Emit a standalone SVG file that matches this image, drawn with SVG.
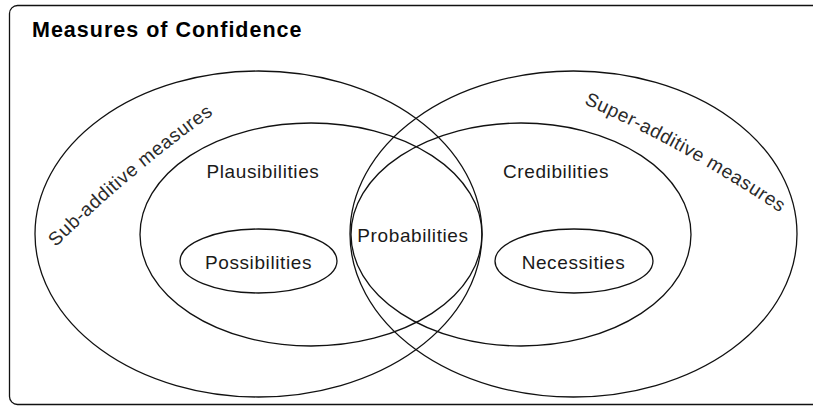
<svg xmlns="http://www.w3.org/2000/svg" width="813" height="408" viewBox="0 0 813 408">
  <style>
    .shape { fill: none; stroke: #111; stroke-width: 1.3; }
    .lbl { font-family: "Liberation Sans", Arial, Helvetica, sans-serif; font-size: 19px; letter-spacing: 0.6px; fill: #1a1a1a; text-anchor: middle; }
    .arc { font-family: "Liberation Sans", Arial, Helvetica, sans-serif; font-size: 19px; letter-spacing: 0.6px; fill: #2a2a2a; }
    .title { font-family: "Liberation Sans", Arial, Helvetica, sans-serif; font-size: 21.5px; font-weight: bold; letter-spacing: 1px; fill: #000; }
  </style>
  <defs>
    <path id="subPath" d="M 55,248 A 1300,1300 0 0 1 215,113"/>
    <path id="superPath" d="M 582,103 A 1300,1300 0 0 1 782,214"/>
  </defs>
  <rect width="813" height="408" fill="#fff"/>
  <g id="frame">
    <rect x="9.5" y="5.5" width="840" height="399" rx="8" ry="8" class="shape"/>
    <text x="32" y="36.5" class="title">Measures of Confidence</text>
  </g>
  <g id="sub-additive">
    <ellipse cx="258.5" cy="234" rx="223.5" ry="163" class="shape"/>
    <text class="arc"><textPath href="#subPath" startOffset="50%" text-anchor="middle">Sub-additive measures</textPath></text>
  </g>
  <g id="super-additive">
    <ellipse cx="573.5" cy="234" rx="223.5" ry="163" class="shape"/>
    <text class="arc"><textPath href="#superPath" startOffset="50%" text-anchor="middle">Super-additive measures</textPath></text>
  </g>
  <g id="plausibilities">
    <ellipse cx="311" cy="234.5" rx="171" ry="111.5" class="shape"/>
    <text x="263" y="178" class="lbl">Plausibilities</text>
  </g>
  <g id="credibilities">
    <ellipse cx="521" cy="234.5" rx="170" ry="111.5" class="shape"/>
    <text x="556" y="178" class="lbl">Credibilities</text>
  </g>
  <g id="probabilities">
    <text x="413" y="242" class="lbl">Probabilities</text>
  </g>
  <g id="possibilities">
    <ellipse cx="258.5" cy="261" rx="78.5" ry="32" class="shape"/>
    <text x="258.5" y="269" class="lbl">Possibilities</text>
  </g>
  <g id="necessities">
    <ellipse cx="574" cy="261" rx="79" ry="32" class="shape"/>
    <text x="573.5" y="269" class="lbl">Necessities</text>
  </g>
  <g id="connectors"/>
</svg>
